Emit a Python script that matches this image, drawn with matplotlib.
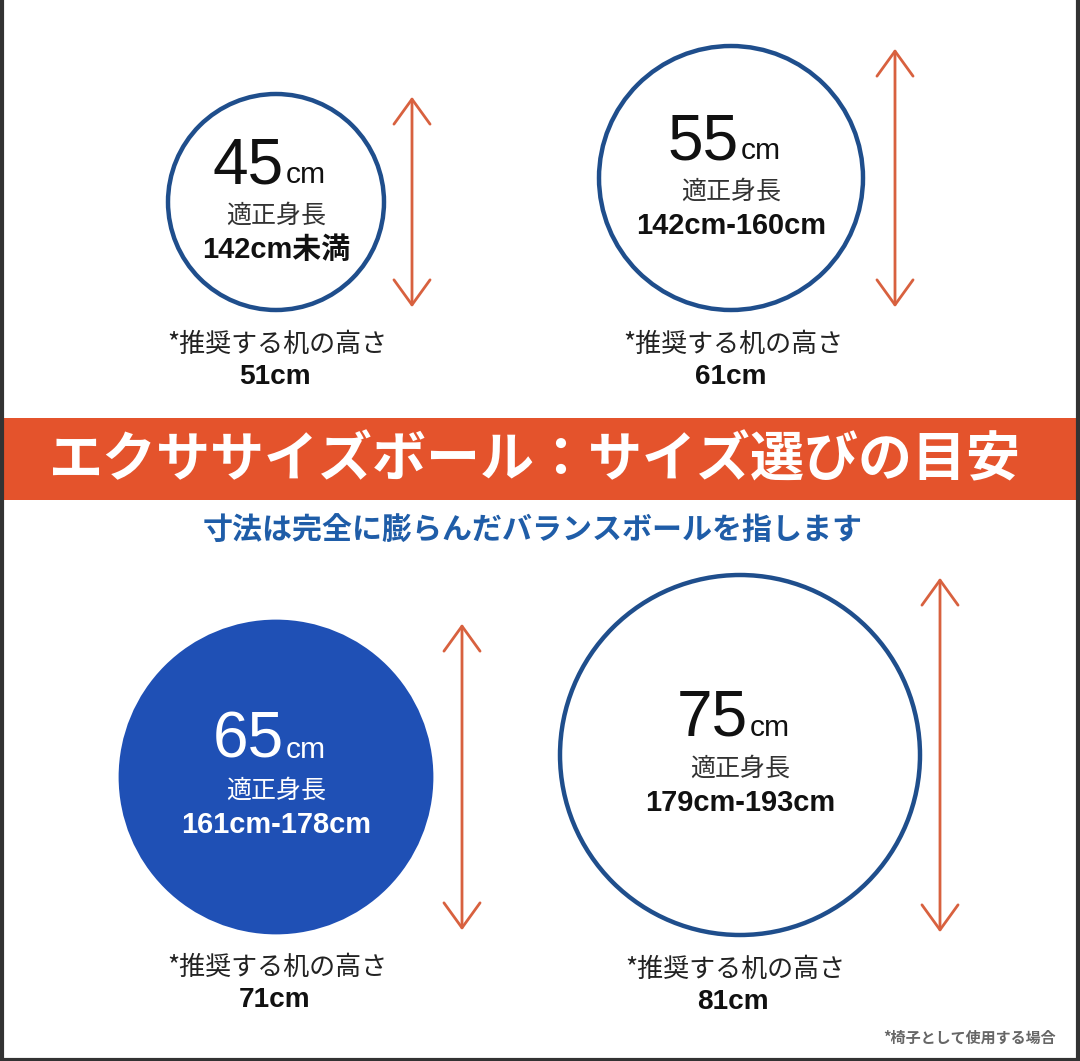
import matplotlib.pyplot as plt
from matplotlib.patches import Circle, Rectangle

# ボールのデータ
ball_sizes = [45, 55, 65, 75]
height_ranges = ['142cm未満', '142cm-160cm', '161cm-178cm', '179cm-193cm']
desk_heights = ['51cm', '61cm', '71cm', '81cm']
filled = [False, False, True, False]

title = 'エクササイズボール：サイズ選びの目安'
subtitle = '寸法は完全に膨らんだバランスボールを指します'
label_height = '適正身長'
label_desk = '*推奨する机の高さ'
footnote = '*椅子として使用する場合'

# レイアウト (ピクセル, 上から)
centers_x = [276, 731, 276, 740]
bottoms_y = [310, 310, 933, 935]
arrow_gap = [28, 32, 30, 20]
desk_x = [277, 733, 277, 735]
px_per_cm = 2.4

W, H = 1080, 1061
PT = 0.72  # px -> pt (dpi 100)

LAT = ['Liberation Sans', 'Noto Sans CJK JP']
JP = ['Noto Sans CJK JP', 'Liberation Sans']

ORANGE = '#E4532C'
ARROW = '#D8613F'
NAVY = '#1F4E8C'
BLUE = '#1F50B5'
SUB_BLUE = '#1F5DA8'

fig = plt.figure(figsize=(W / 100, H / 100), dpi=100)
ax = fig.add_axes([0, 0, 1, 1])
ax.set_xlim(0, W)
ax.set_ylim(H, 0)
ax.axis('off')

for i, size in enumerate(ball_sizes):
    r = size * px_per_cm
    cx = centers_x[i]
    cy = bottoms_y[i] - r
    if filled[i]:
        ax.add_patch(Circle((cx, cy), r, facecolor=BLUE, edgecolor=BLUE, lw=2))
        tc = 'white'
        tc2 = 'white'
    else:
        ax.add_patch(Circle((cx, cy), r, facecolor='white', edgecolor=NAVY, lw=3.2))
        tc = '#111111'
        tc2 = '#333333'

    # 大きい数字 + cm
    ax.text(cx + 8, cy - 19, str(size), ha='right', va='baseline',
            fontsize=64 * PT, color=tc, family=LAT)
    ax.text(cx + 10, cy - 19, 'cm', ha='left', va='baseline',
            fontsize=30 * PT, color=tc, family=LAT)
    ax.text(cx, cy + 14, label_height, ha='center', va='center',
            fontsize=25 * PT, color=tc2, family=JP)
    ax.text(cx, cy + 48, height_ranges[i], ha='center', va='center',
            fontsize=29 * PT, color=tc, family=LAT, fontweight='bold')

    # 矢印 (直径)
    axx = cx + r + arrow_gap[i]
    ax.annotate('', xy=(axx, cy - r), xytext=(axx, cy + r),
                arrowprops=dict(arrowstyle='<->,head_length=0.9,head_width=0.65',
                                color=ARROW, lw=2, mutation_scale=20))

    # 机の高さ
    by = bottoms_y[i]
    ax.text(desk_x[i], by + 34, label_desk, ha='center', va='center',
            fontsize=26 * PT, color='#222222', family=JP)
    ax.text(desk_x[i] - 2, by + 67, desk_heights[i], ha='center', va='center',
            fontsize=28 * PT, color='#111111', family=LAT, fontweight='bold')

# バナー
ax.add_patch(Rectangle((4, 418), W - 8, 82, facecolor=ORANGE, edgecolor='none'))
ax.text(W / 2 - 5, 461, title, ha='center', va='center', fontsize=54 * PT,
        color='white', family=JP, fontweight='bold')
ax.text(533, 531, subtitle, ha='center', va='center', fontsize=30 * PT,
        color=SUB_BLUE, family=JP, fontweight='bold')

ax.text(1056, 1038, footnote, ha='right', va='center', fontsize=15 * PT,
        color='#666666', family=JP, fontweight='bold')

# 枠線
ax.plot([1.5, 1.5], [0, H], color='#333333', lw=3, solid_capstyle='butt')
ax.plot([W - 2, W - 2], [0, H], color='#333333', lw=3, solid_capstyle='butt')
ax.plot([0, W], [H - 1.5, H - 1.5], color='#333333', lw=3, solid_capstyle='butt')

fig.savefig('out.png', dpi=100)
